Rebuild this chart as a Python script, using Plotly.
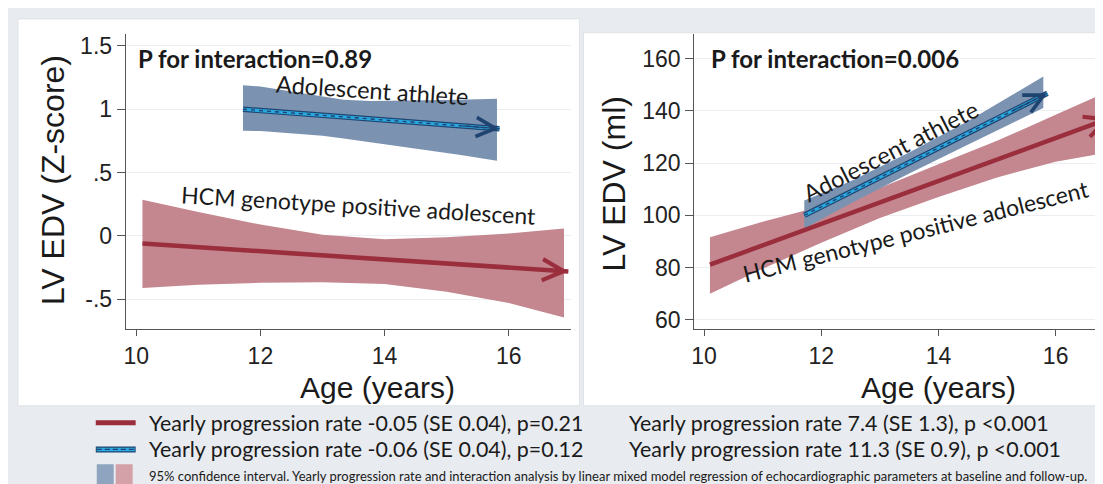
import plotly.graph_objects as go

W, H = 1103, 484

# ---------------- data ----------------
age_ticks = [10, 12, 14, 16]
z_tick_vals = [-0.5, 0, 0.5, 1, 1.5]
z_tick_text = ["-.5", "0", ".5", "1", "1.5"]
ml_tick_vals = [60, 80, 100, 120, 140, 160]

# Left panel: LV EDV Z-score
hcm_z_line_age = [10.1, 16.96]
hcm_z_line = [-0.06, -0.28]
hcm_z_band_age = [10.1, 11, 12, 13, 14, 15, 16, 16.89]
hcm_z_upper = [0.286, 0.19, 0.09, 0.01, -0.025, -0.01, 0.02, 0.059]
hcm_z_lower = [-0.41, -0.385, -0.37, -0.365, -0.38, -0.44, -0.53, -0.644]

ath_z_line_age = [11.72, 15.85]
ath_z_line = [1.0, 0.846]
ath_z_band_age = [11.72, 12.0, 12.5, 13.0, 13.34, 13.77, 14.5, 15.2, 15.81]
ath_z_upper = [1.19, 1.18, 1.14, 1.10, 1.075, 1.065, 1.068, 1.075, 1.083]
ath_z_lower = [0.83, 0.828, 0.81, 0.79, 0.77, 0.74, 0.69, 0.64, 0.594]

# Right panel: LV EDV (ml)
hcm_ml_line_age = [10.1, 16.94]
hcm_ml_line = [81.1, 137.3]
hcm_ml_band_age = [10.1, 11, 12, 13, 14, 15, 16, 16.89]
hcm_ml_upper = [91.6, 97.5, 103.5, 110.5, 119.5, 128.5, 138.5, 147.4]
hcm_ml_lower = [70.0, 79.5, 89.5, 99.0, 107.0, 114.5, 120.5, 124.0]

ath_ml_line_age = [11.71, 15.86]
ath_ml_line = [100.0, 146.7]
ath_ml_band_age = [11.71, 12.5, 13.5, 14.5, 15.79]
ath_ml_upper = [105.7, 113.0, 124.0, 136.0, 153.1]
ath_ml_lower = [95.0, 104.5, 116.0, 127.0, 141.1]

legend_left = ["Yearly progression rate -0.05 (SE 0.04), p=0.21",
               "Yearly progression rate -0.06 (SE 0.04), p=0.12"]
legend_right = ["Yearly progression rate 7.4 (SE 1.3), p <0.001",
                "Yearly progression rate 11.3 (SE 0.9), p <0.001"]
footnote = ("95% confidence interval. Yearly progression rate and interaction analysis by linear "
            "mixed model regression of echocardiographic parameters at baseline and follow-up.")

# ---------------- styles ----------------
BG = "#e8ebef"
RED_BAND = "rgb(196,134,143)"
BLUE_BAND = "rgb(123,147,177)"
RED = "#9a2e3c"
CYAN = "#2aa8e0"
NAVY = "#1f4470"
AXIS = "#555555"
TXT = "#1a1a1a"
ARIAL = "Liberation Sans, Arial, sans-serif"
CALI = "Lato, Carlito, sans-serif"


def px(x):
    return x / W


def py(y):
    return 1 - y / H


fig = go.Figure()


def band(xs, up, lo, color, xa, ya):
    fig.add_trace(go.Scatter(x=list(xs) + list(xs)[::-1], y=list(up) + list(lo)[::-1],
                             fill="toself", fillcolor=color, mode="lines",
                             line=dict(width=0, color=color), hoverinfo="skip",
                             showlegend=False, xaxis=xa, yaxis=ya))


def red_line(xs, ys, xa, ya):
    fig.add_trace(go.Scatter(x=xs, y=ys, mode="lines", line=dict(color=RED, width=4.5),
                             showlegend=False, xaxis=xa, yaxis=ya))


def blue_line(xs, ys, xa, ya):
    fig.add_trace(go.Scatter(x=xs, y=ys, mode="lines", line=dict(color=NAVY, width=5.5),
                             showlegend=False, xaxis=xa, yaxis=ya))
    fig.add_trace(go.Scatter(x=xs, y=ys, mode="lines", line=dict(color=CYAN, width=3.2),
                             showlegend=False, xaxis=xa, yaxis=ya))
    fig.add_trace(go.Scatter(x=xs, y=ys, mode="lines",
                             line=dict(color=NAVY, width=1.4, dash="4px,4px"),
                             showlegend=False, xaxis=xa, yaxis=ya))


# left panel
band(hcm_z_band_age, hcm_z_upper, hcm_z_lower, RED_BAND, "x", "y")
band(ath_z_band_age, ath_z_upper, ath_z_lower, BLUE_BAND, "x", "y")
red_line(hcm_z_line_age, hcm_z_line, "x", "y")
blue_line(ath_z_line_age, ath_z_line, "x", "y")
# right panel
band(hcm_ml_band_age, hcm_ml_upper, hcm_ml_lower, RED_BAND, "x2", "y2")
band(ath_ml_band_age, ath_ml_upper, ath_ml_lower, BLUE_BAND, "x2", "y2")
red_line(hcm_ml_line_age, hcm_ml_line, "x2", "y2")
blue_line(ath_ml_line_age, ath_ml_line, "x2", "y2")

annotations = []


def arrow(xs, ys, xr, yr, color, width, size, t):
    ax = xs[0] + (xs[-1] - xs[0]) * t
    ay = ys[0] + (ys[-1] - ys[0]) * t
    annotations.append(dict(x=xs[-1], y=ys[-1], ax=ax, ay=ay, xref=xr, yref=yr,
                            axref=xr, ayref=yr, text="", showarrow=True, arrowhead=5,
                            arrowsize=size, arrowwidth=width, arrowcolor=color, standoff=0))


arrow(hcm_z_line_age, hcm_z_line, "x", "y", RED, 2.0, 2.1, 0.9)
arrow(ath_z_line_age, ath_z_line, "x", "y", NAVY, 1.3, 2.9, 0.85)
arrow(hcm_ml_line_age, hcm_ml_line, "x2", "y2", RED, 2.0, 2.1, 0.9)
arrow(ath_ml_line_age, ath_ml_line, "x2", "y2", NAVY, 1.3, 2.9, 0.85)


def txt(text, x, y, size, font=CALI, angle=0, xanchor="center", bold=False, color=TXT):
    annotations.append(dict(text=("<b>%s</b>" % text) if bold else text,
                            x=px(x), y=py(y), xref="paper", yref="paper",
                            xanchor=xanchor, yanchor="middle", showarrow=False,
                            textangle=angle, font=dict(family=font, size=size, color=color)))


# panel texts
txt("P for interaction=0.89", 125, 50, 24, xanchor="left", bold=True)
txt("P for interaction=0.006", 700, 50, 24, xanchor="left", bold=True)
txt("Adolescent athlete", 362, 82, 23.5, angle=3.8)
txt("HCM genotype positive adolescent", 348, 198, 23, angle=3.5)
txt("Adolescent athlete", 882, 143, 23.5, angle=-27)
txt("HCM genotype positive adolescent", 907, 224, 23, angle=-14)
# axis titles
txt("LV EDV (Z-score)", 42, 173, 32, font=ARIAL, angle=-90)
txt("LV EDV (ml)", 605, 177, 32, font=ARIAL, angle=-90)
txt("Age (years)", 368, 382, 30, font=ARIAL)
txt("Age (years)", 930, 382, 30, font=ARIAL)
# legend texts
for i, s in enumerate(legend_left):
    txt(s, 136, 418 + 27 * i, 21.4, xanchor="left")
for i, s in enumerate(legend_right):
    txt(s, 618, 418 + 27 * i, 21.4, xanchor="left")
txt(footnote, 136, 472, 13, xanchor="left")

shapes = [
    dict(type="rect", xref="paper", yref="paper", x0=px(7), x1=px(570), y0=py(401), y1=py(10),
         fillcolor="white", line=dict(color="#dfe2e6", width=1), layer="below"),
    dict(type="rect", xref="paper", yref="paper", x0=px(574), x1=px(1104), y0=py(401), y1=py(24),
         fillcolor="white", line=dict(color="#dfe2e6", width=1), layer="below"),
    # legend swatches
    dict(type="line", xref="paper", yref="paper", x0=px(85), x1=px(125), y0=py(418), y1=py(418),
         line=dict(color=RED, width=5)),
    dict(type="line", xref="paper", yref="paper", x0=px(85), x1=px(125), y0=py(445), y1=py(445),
         line=dict(color=NAVY, width=6)),
    dict(type="line", xref="paper", yref="paper", x0=px(86), x1=px(124), y0=py(445), y1=py(445),
         line=dict(color=CYAN, width=3.5)),
    dict(type="line", xref="paper", yref="paper", x0=px(86), x1=px(124), y0=py(445), y1=py(445),
         line=dict(color=NAVY, width=1.4, dash="5px,3px")),
    dict(type="rect", xref="paper", yref="paper", x0=px(86), x1=px(103), y0=py(480), y1=py(460),
         fillcolor="#8fa4bf", line=dict(width=0)),
    dict(type="rect", xref="paper", yref="paper", x0=px(105), x1=px(122), y0=py(480), y1=py(460),
         fillcolor="#d5a1a8", line=dict(width=0)),
]

ydom = [py(323.3), py(25)]
common_x = dict(tickvals=age_ticks, ticks="outside", ticklen=6, tickcolor=AXIS, showline=True,
                linecolor=AXIS, linewidth=1, showgrid=False, zeroline=False,
                tickfont=dict(family=ARIAL, size=23, color="#222"), ticklabelstandoff=0)
common_y = dict(ticks="outside", ticklen=8, tickcolor=AXIS, showline=True, linecolor=AXIS,
                linewidth=1, showgrid=True, gridcolor="#eceef1", gridwidth=1, zeroline=False,
                tickfont=dict(family=ARIAL, size=23, color="#222"), domain=ydom)

fig.update_layout(
    width=W, height=H, margin=dict(l=0, r=0, t=0, b=0),
    paper_bgcolor=BG, plot_bgcolor="rgba(0,0,0,0)", showlegend=False,
    xaxis=dict(domain=[px(115), px(562)], range=[9.83, 17.01], anchor="y", **common_x),
    yaxis=dict(range=[-0.734, 1.596], tickvals=z_tick_vals, ticktext=z_tick_text,
               anchor="x", **common_y),
    xaxis2=dict(domain=[px(685), 1.0], range=[9.83, 16.945], anchor="y2", **common_x),
    yaxis2=dict(range=[56.5, 169.5], tickvals=ml_tick_vals, anchor="x2", **common_y),
    annotations=annotations, shapes=shapes,
)

fig.write_html("out.html")
